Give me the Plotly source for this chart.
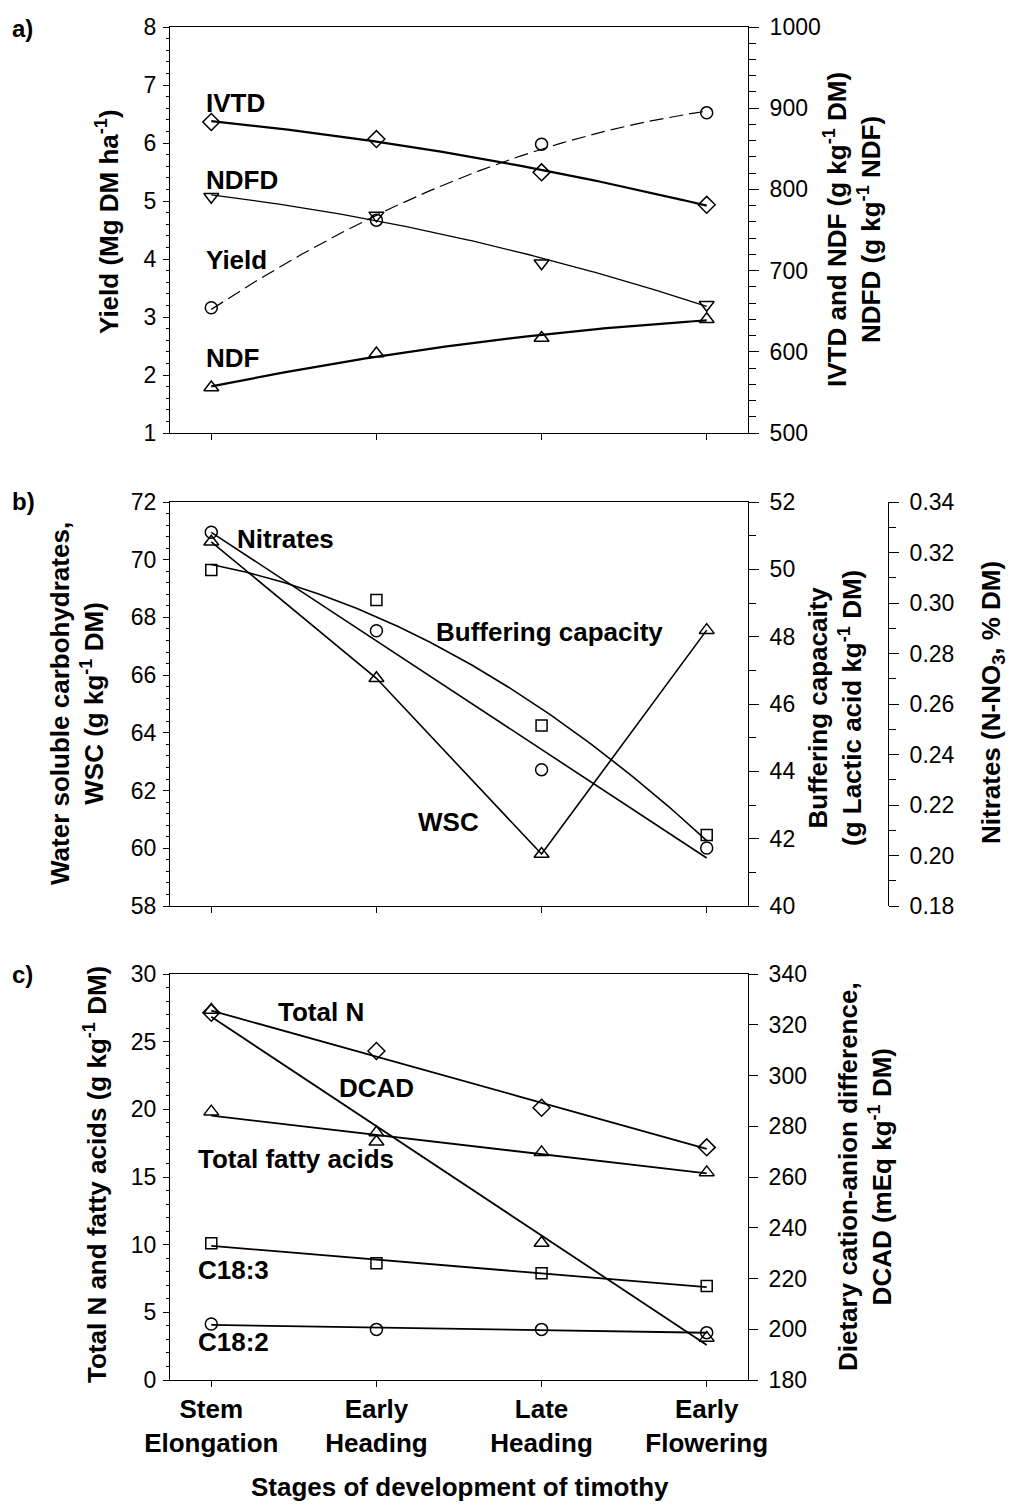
import numpy as np
import plotly.graph_objects as go

# ---- data -----------------------------------------------------------------
stage_idx = [0, 1, 2, 3]
stage_labels = ["Stem<br>Elongation", "Early<br>Heading", "Late<br>Heading", "Early<br>Flowering"]

# a) yield (Mg DM/ha) and digestibility / fibre (g/kg)
yield_mg = [3.16, 4.67, 5.98, 6.52]
ivtd = [883, 862, 821, 781]
ndfd = [791, 768, 709, 658]
ndf = [556, 598, 617, 640]

# b) WSC (g/kg DM), buffering capacity (g lactic acid/kg DM), nitrates (% DM)
wsc = [70.62, 65.89, 59.80, 67.56]
buffering = [49.98, 49.09, 45.36, 42.11]
nitrates = [0.328, 0.289, 0.234, 0.203]

# c) total N and fatty acids (g/kg DM), DCAD (mEq/kg DM)
total_n = [27.14, 24.31, 20.12, 17.19]
total_fa = [19.83, 17.60, 16.82, 15.34]
c18_3 = [10.10, 8.62, 7.88, 6.95]
c18_2 = [4.14, 3.74, 3.74, 3.50]
dcad = [325.8, 277.5, 234.0, 196.6]

# ---- page geometry (pixels) ------------------------------------------------
W, H = 1010, 1508
FONT = "Liberation Sans, Arial, sans-serif"


def px(x):
    return x / W


def py(y):
    return 1 - y / H


X_DOM = [px(170), px(748)]
A_DOM = [py(433), py(27)]
B_DOM = [py(906), py(502)]
C_DOM = [py(1380), py(974)]

fig = go.Figure()
xs = np.linspace(0, 3, 121)


def fit(vals, deg):
    return np.polyval(np.polyfit(stage_idx, vals, deg), xs)


def line(x, y, xa, ya, width=1.5, dash="solid"):
    fig.add_trace(go.Scatter(x=x, y=y, xaxis=xa, yaxis=ya, mode="lines",
                             line=dict(color="black", width=width, dash=dash),
                             hoverinfo="skip", showlegend=False))


def marks(y, xa, ya, symbol, size=12):
    fig.add_trace(go.Scatter(x=stage_idx, y=y, xaxis=xa, yaxis=ya, mode="markers",
                             marker=dict(symbol=symbol, size=size, color="black",
                                         line=dict(color="black", width=1.5)),
                             showlegend=False))


# panel a
line(xs, fit(yield_mg, 2), "x", "y", 1.2, "14px,6px")
marks(yield_mg, "x", "y", "circle-open")
line(xs, fit(ivtd, 2), "x", "y2", 2.2)
marks(ivtd, "x", "y2", "diamond-open", 13)
line(xs, fit(ndfd, 2), "x", "y2", 1.3)
marks(ndfd, "x", "y2", "triangle-down-open", 13)
line(xs, fit(ndf, 2), "x", "y2", 2.2)
marks(ndf, "x", "y2", "triangle-up-open", 13)

# panel b
line(stage_idx, wsc, "x2", "y3", 1.6)
marks(wsc, "x2", "y3", "triangle-up-open", 13)
line(xs, fit(buffering, 2), "x2", "y4", 1.6)
marks(buffering, "x2", "y4", "square-open", 11)
line(xs, fit(nitrates, 1), "x2", "y5", 1.6)
marks(nitrates, "x2", "y5", "circle-open")

# panel c
line(xs, fit(total_n, 1), "x3", "y6", 1.8)
marks(total_n, "x3", "y6", "diamond-open", 13)
line(xs, fit(total_fa, 1), "x3", "y6", 1.8)
marks(total_fa, "x3", "y6", "triangle-up-open", 13)
line(xs, fit(c18_3, 1), "x3", "y6", 1.8)
marks(c18_3, "x3", "y6", "square-open", 11)
line(xs, fit(c18_2, 1), "x3", "y6", 1.8)
marks(c18_2, "x3", "y6", "circle-open")
line(xs, fit(dcad, 1), "x3", "y7", 1.8)
marks(dcad, "x3", "y7", "triangle-up-open", 13)

# ---- axes -----------------------------------------------------------------
tickfont = dict(family=FONT, size=23, color="black")


def xaxis(anchor, labels):
    return dict(domain=X_DOM, anchor=anchor, range=[-0.25, 3.25], automargin=False,
                tickvals=stage_idx,
                ticktext=[f"<b>{s}</b>" for s in stage_labels], showticklabels=labels,
                ticks="outside", ticklen=6, tickcolor="black", tickwidth=1,
                showline=True, linecolor="black", linewidth=1, mirror=True,
                showgrid=False, zeroline=False,
                tickfont=dict(family=FONT, size=26, color="black"))


def yaxis(dom, rng, dtick, minor, tlen, mlen, side="left", overlay=None,
          anchor=None, position=None, fmt=None, standoff=6):
    ax = dict(range=rng, dtick=dtick, tick0=rng[0], ticks="outside", ticklen=tlen,
              tickcolor="black", tickwidth=1, showline=True, linecolor="black",
              linewidth=1, showgrid=False, zeroline=False, side=side,
              tickfont=tickfont, automargin=False, ticklabelstandoff=standoff)
    if dom is not None:
        ax["domain"] = dom
    if minor:
        ax["minor"] = dict(dtick=minor, tick0=rng[0], ticks="outside", ticklen=mlen,
                           tickcolor="black", tickwidth=1, showgrid=False)
    if overlay:
        ax["overlaying"] = overlay
    if anchor:
        ax["anchor"] = anchor
    if position is not None:
        ax["position"] = position
    if fmt:
        ax["tickformat"] = fmt
    return ax


fig.update_layout(
    width=W, height=H, margin=dict(l=0, r=0, t=0, b=0),
    paper_bgcolor="white", plot_bgcolor="white",
    font=dict(family=FONT, color="black"),
    xaxis=xaxis("y", False),
    xaxis2=xaxis("y3", False),
    xaxis3=xaxis("y6", True),
    yaxis=yaxis(A_DOM, [1, 8], 1, 0.2, 6, 3, anchor="x", standoff=2),
    yaxis2=yaxis(None, [500, 1000], 100, 20, 10, 7, side="right", overlay="y", anchor="x"),
    yaxis3=yaxis(B_DOM, [58, 72], 2, 0.4, 6, 3, anchor="x2", standoff=2),
    yaxis4=yaxis(None, [40, 52], 2, 1, 10, 7, side="right", overlay="y3", anchor="x2"),
    yaxis5=yaxis(None, [0.18, 0.34], 0.02, 0.01, 10, 7, side="right", overlay="y3",
                 anchor="free", position=px(888), fmt=".2f"),
    yaxis6=yaxis(C_DOM, [0, 30], 5, 1, 6, 3, anchor="x3", standoff=2),
    yaxis7=yaxis(None, [180, 340], 20, None, 9, 0, side="right", overlay="y6", anchor="x3"),
)

# ---- text -----------------------------------------------------------------
annots = []


def text(s, x, y, size=26, angle=0, xanchor="left", yanchor="middle", bold=True):
    annots.append(dict(text=f"<b>{s}</b>" if bold else s, x=px(x), y=py(y),
                       xref="paper", yref="paper", showarrow=False,
                       xanchor=xanchor, yanchor=yanchor, textangle=angle,
                       font=dict(family=FONT, size=size, color="black")))


# panel letters
text("a)", 10, 28, 24)
text("b)", 10, 502, 24)
text("c)", 10, 974, 24)

# series labels
text("IVTD", 204, 103)
text("NDFD", 204, 180)
text("Yield", 204, 260)
text("NDF", 204, 358)
text("Nitrates", 235, 539)
text("Buffering capacity", 434, 632)
text("WSC", 416, 822)
text("Total N", 276, 1012)
text("DCAD", 337, 1088)
text("Total fatty acids", 196, 1159)
text("C18:3", 196, 1270)
text("C18:2", 196, 1342)

# axis titles
text("Yield (Mg DM ha<sup>-1</sup>)", 108, 222, 26, -90, "center")
text("IVTD and NDF (g kg<sup>-1</sup> DM)<br>NDFD (g kg<sup>-1</sup> NDF)", 852, 230, 26, -90, "center")
text("Water soluble carbohydrates,<br>WSC (g kg<sup>-1</sup> DM)", 77, 704, 26, -90, "center")
text("Buffering capacaity<br>(g Lactic acid kg<sup>-1</sup> DM)", 835, 708, 26, -90, "center")
text("Nitrates (N-NO<sub>3</sub>, % DM)", 992, 703, 26, -90, "center")
text("Total N and fatty acids (g kg<sup>-1</sup> DM)", 95, 1175, 26, -90, "center")
text("Dietary cation-anion difference,<br>DCAD (mEq kg<sup>-1</sup> DM)", 865, 1177, 26, -90, "center")
text("Stages of development of timothy", 460, 1487, 26, 0, "center")

fig.update_layout(annotations=annots)

fig.write_html("out.html")
